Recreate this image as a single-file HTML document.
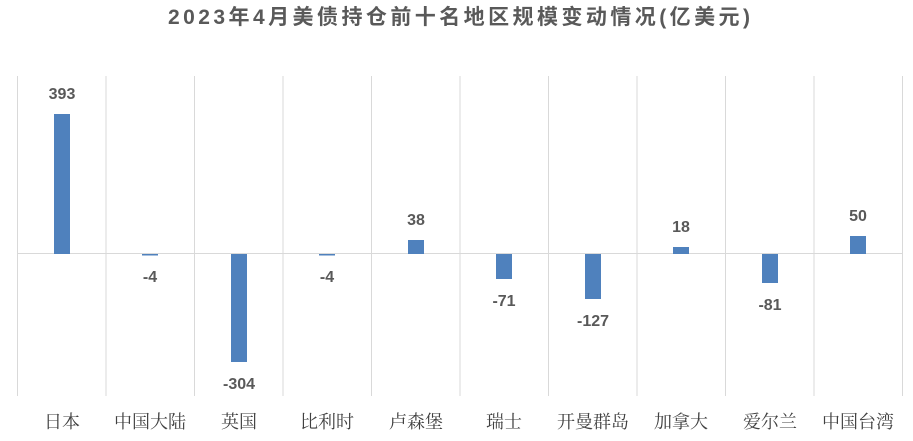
<!DOCTYPE html>
<html><head><meta charset="utf-8"><style>
html,body{margin:0;padding:0;background:#fff;}
svg{display:block}
</style></head><body>
<svg width="913" height="441" xmlns="http://www.w3.org/2000/svg">
<text x="168" y="24" font-family="'Liberation Sans','Noto Sans CJK SC',sans-serif" font-weight="bold" font-size="21" fill="#595959" textLength="582" lengthAdjust="spacing">2023年4月美债持仓前十名地区规模变动情况(亿美元)</text>
<g stroke="#d9d9d9" stroke-width="1">
<line x1="17.5" y1="76" x2="17.5" y2="396"/>
<line x1="106" y1="76" x2="106" y2="396"/>
<line x1="194.5" y1="76" x2="194.5" y2="396"/>
<line x1="283" y1="76" x2="283" y2="396"/>
<line x1="371.5" y1="76" x2="371.5" y2="396"/>
<line x1="460" y1="76" x2="460" y2="396"/>
<line x1="548.5" y1="76" x2="548.5" y2="396"/>
<line x1="637" y1="76" x2="637" y2="396"/>
<line x1="725.5" y1="76" x2="725.5" y2="396"/>
<line x1="814" y1="76" x2="814" y2="396"/>
<line x1="902.5" y1="76" x2="902.5" y2="396"/>
<line x1="17" y1="253.5" x2="903" y2="253.5"/>
</g>
<g fill="#4f81bd">
<rect x="54" y="114" width="16" height="140"/>
<rect x="142" y="254" width="16" height="1.5"/>
<rect x="231" y="254" width="16" height="108"/>
<rect x="319" y="254" width="16" height="1.5"/>
<rect x="408" y="240" width="16" height="14"/>
<rect x="496" y="254" width="16" height="25"/>
<rect x="585" y="254" width="16" height="45"/>
<rect x="673" y="247" width="16" height="7"/>
<rect x="762" y="254" width="16" height="29"/>
<rect x="850" y="236" width="16" height="18"/>
</g>
<g font-family="'Liberation Sans',sans-serif" font-weight="bold" font-size="16" fill="#595959" text-anchor="middle">
<text x="62" y="99">393</text>
<text x="150" y="282">-4</text>
<text x="239" y="389">-304</text>
<text x="327" y="282">-4</text>
<text x="416" y="225">38</text>
<text x="504" y="306">-71</text>
<text x="593" y="326">-127</text>
<text x="681" y="232">18</text>
<text x="770" y="310">-81</text>
<text x="858" y="221">50</text>
</g>
<g font-family="'Noto Serif CJK SC','Noto Serif CJK',serif" font-size="18" fill="#404040" text-anchor="middle">
<text x="62" y="428">日本</text>
<text x="150" y="428">中国大陆</text>
<text x="239" y="428">英国</text>
<text x="327" y="428">比利时</text>
<text x="416" y="428">卢森堡</text>
<text x="504" y="428">瑞士</text>
<text x="593" y="428">开曼群岛</text>
<text x="681" y="428">加拿大</text>
<text x="770" y="428">爱尔兰</text>
<text x="858" y="428">中国台湾</text>
</g>
</svg>
</body></html>
